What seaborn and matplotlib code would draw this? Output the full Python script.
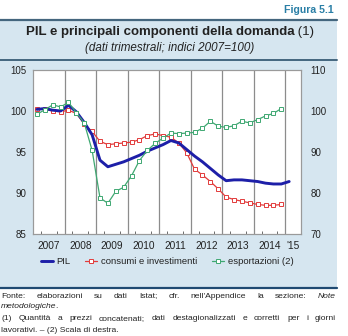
import matplotlib
matplotlib.use("Agg")
import matplotlib.pyplot as plt
import seaborn as sns
import numpy as np
from matplotlib.patches import Rectangle
from matplotlib.lines import Line2D

sns.set_theme(style="white")
plt.rcParams['font.family'] = ['Liberation Sans', 'DejaVu Sans']

# ---------------- data ----------------
years = [2007, 2008, 2009, 2010, 2011, 2012, 2013, 2014, 2015]
year_labels = ["2007", "2008", "2009", "2010", "2011", "2012", "2013", "2014", "'15"]

pil = [100.2, 100.3, 100.1, 100.0,
       100.7, 99.9, 98.6, 97.1,
       94.0, 93.2, 93.5, 93.8,
       94.2, 94.6, 95.1, 95.5,
       95.9, 96.4, 96.1, 95.3,
       94.5, 93.8, 93.0, 92.2,
       91.5, 91.6, 91.6, 91.5,
       91.4, 91.2, 91.1, 91.1,
       91.4]

consumi = [100.3, 100.2, 100.0, 99.9,
           100.1, 99.7, 98.4, 97.5,
           96.3, 95.9, 96.0, 96.1,
           96.2, 96.5, 97.0, 97.2,
           97.0, 96.8, 96.1, 94.9,
           92.9, 92.2, 91.4, 90.5,
           89.5, 89.2, 89.0, 88.8,
           88.6, 88.5, 88.5, 88.6]

esportazioni = [99.2, 100.3, 101.5, 101.0,
                102.1, 99.6, 97.1, 90.4,
                78.8, 77.5, 80.4, 81.4,
                84.2, 87.9, 90.4, 92.1,
                93.4, 94.6, 94.5, 94.6,
                94.8, 95.8, 97.5, 96.3,
                96.0, 96.4, 97.5, 97.1,
                97.9, 98.8, 99.4, 100.6]

left_ticks = [85, 90, 95, 100, 105]
right_ticks = [70, 80, 90, 100, 110]

# quarter positions (centre of each quarter)
def qpos(n):
    return [2007 + (i + 0.5) / 4 for i in range(n)]

x_pil = qpos(len(pil))
x_cons = qpos(len(consumi))
x_exp = qpos(len(esportazioni))

# ---------------- style ----------------
W, H = 348, 336
BLUE = "#1d1fa8"
RED = "#e23b3b"
GREEN = "#3fa872"
PANEL = "#d6e6f0"
DARK = "#44667e"
TXT = "#222222"

fig = plt.figure(figsize=(W / 100, H / 100), dpi=100)
fig.patch.set_facecolor("white")

def fx(px):
    return px / W

def fy(py):
    return 1 - py / H

# panel background
fig.patches.append(Rectangle((0, fy(288)), fx(337), fy(20) - fy(288),
                             transform=fig.transFigure, facecolor=PANEL,
                             edgecolor="none", zorder=-5))
for yy, col, lw in [(20, DARK, 1.6), (60, DARK, 1.4), (288, "#1f4a72", 1.6)]:
    fig.lines.append(Line2D([0, fx(337)], [fy(yy), fy(yy)], transform=fig.transFigure,
                            color=col, lw=lw, zorder=-4))

# ---------------- axes ----------------
ax = fig.add_axes([fx(33), fy(234), fx(301) - fx(33), fy(70) - fy(234)])
ax.set_facecolor("white")
ax.set_xlim(2007, 2015.5)
ax.set_ylim(85, 105)
ax2 = ax.twinx()
ax2.set_ylim(70, 110)

for y in years[1:]:
    ax.axvline(y, color="#8c8c8c", lw=0.9, zorder=1)

sns.lineplot(x=x_pil, y=pil, ax=ax, color=BLUE, lw=2.1, zorder=4)
sns.lineplot(x=x_cons, y=consumi, ax=ax, color=RED, lw=0.9, marker="s",
             markersize=3.2, markerfacecolor="white", markeredgecolor=RED,
             markeredgewidth=0.7, zorder=3)
sns.lineplot(x=x_exp, y=esportazioni, ax=ax2, color=GREEN, lw=0.9, marker="s",
             markersize=3.2, markerfacecolor="white", markeredgecolor=GREEN,
             markeredgewidth=0.7, zorder=3)

ax.set_yticks(left_ticks)
ax.set_yticklabels([str(v) for v in left_ticks])
ax2.set_yticks(right_ticks)
ax2.set_yticklabels([str(v) for v in right_ticks])
ax.tick_params(axis="y", length=0, pad=5, labelsize=7, labelcolor=TXT)
ax2.tick_params(axis="y", length=0, pad=7, labelsize=7, labelcolor=TXT)

mid = [y + 0.5 for y in years[:-1]] + [2015.25]
ax.set_xticks(mid)
ax.set_xticklabels(year_labels)
ax.set_xticks([2007 + i / 4 for i in range(1, 34)], minor=True)
ax.tick_params(axis="x", which="major", length=0, pad=5, labelsize=7.3, labelcolor=TXT)
ax.tick_params(axis="x", which="minor", direction="in", length=2.5, width=0.6,
               color="#555555", bottom=True)
ax.set_xlabel(""); ax.set_ylabel(""); ax2.set_ylabel("")
for a in (ax, ax2):
    for s in a.spines.values():
        s.set_color("#9a9a9a")
        s.set_linewidth(0.8)
ax.grid(False); ax2.grid(False)

# legend
handles = [
    Line2D([], [], color=BLUE, lw=2.1),
    Line2D([], [], color=RED, lw=0.9, marker="s", markersize=3.2,
           markerfacecolor="white", markeredgecolor=RED, markeredgewidth=0.7),
    Line2D([], [], color=GREEN, lw=0.9, marker="s", markersize=3.2,
           markerfacecolor="white", markeredgecolor=GREEN, markeredgewidth=0.7),
]
fig.legend(handles, ["PIL", "consumi e investimenti", "esportazioni (2)"],
           loc="center", bbox_to_anchor=(fx(167), fy(262)), ncol=3, frameon=False,
           fontsize=6.8, handlelength=1.3, handletextpad=0.4, columnspacing=1.5,
           labelcolor=TXT)

# ---------------- texts ----------------
fig.text(fx(334), fy(10), "Figura 5.1", ha="right", va="center", fontsize=7.6,
         fontweight="bold", color="#2a7fa6")

renderer = fig.canvas.get_renderer()

def width_px(t):
    return t.get_window_extent(renderer=renderer).width

# title (bold part + normal "(1)")
t1 = fig.text(0, fy(32), "PIL e principali componenti della domanda", fontsize=9.5,
              fontweight="bold", va="center", color=TXT)
t2 = fig.text(0, fy(32), " (1)", fontsize=9.5, va="center", color=TXT)
w1, w2 = width_px(t1), width_px(t2)
start = 170 - (w1 + w2) / 2
t1.set_x(fx(start)); t2.set_x(fx(start + w1))
fig.text(fx(170), fy(48), "(dati trimestrali; indici 2007=100)", ha="center",
         va="center", fontsize=8.4, style="italic", color=TXT)

FN = 6.1
def justify(words, ypx, x0=1, x1=336):
    objs = []
    for w, st in words:
        objs.append(fig.text(0, fy(ypx), w, fontsize=FN, style=st, va="center",
                             color=TXT))
    ws = [width_px(o) for o in objs]
    gap = (x1 - x0 - sum(ws)) / (len(ws) - 1)
    x = x0
    for o, w in zip(objs, ws):
        o.set_x(fx(x))
        x += w + gap

line1 = [(w, "normal") for w in "Fonte: elaborazioni su dati Istat; cfr. nell'Appendice la sezione:".split()] + [("Note", "italic")]
justify(line1, 296)
m = fig.text(fx(1), fy(307), "metodologiche", fontsize=FN, style="italic", va="center", color=TXT)
fig.text(fx(width_px(m)), fy(307), ".", fontsize=FN, va="center", color=TXT)
line3 = [(w, "normal") for w in "(1) Quantità a prezzi concatenati; dati destagionalizzati e corretti per i giorni".split()]
justify(line3, 319)
fig.text(fx(1), fy(330), "lavorativi. – (2) Scala di destra.", fontsize=FN, va="center", color=TXT)

fig.savefig("out.png", dpi=100, facecolor="white")
